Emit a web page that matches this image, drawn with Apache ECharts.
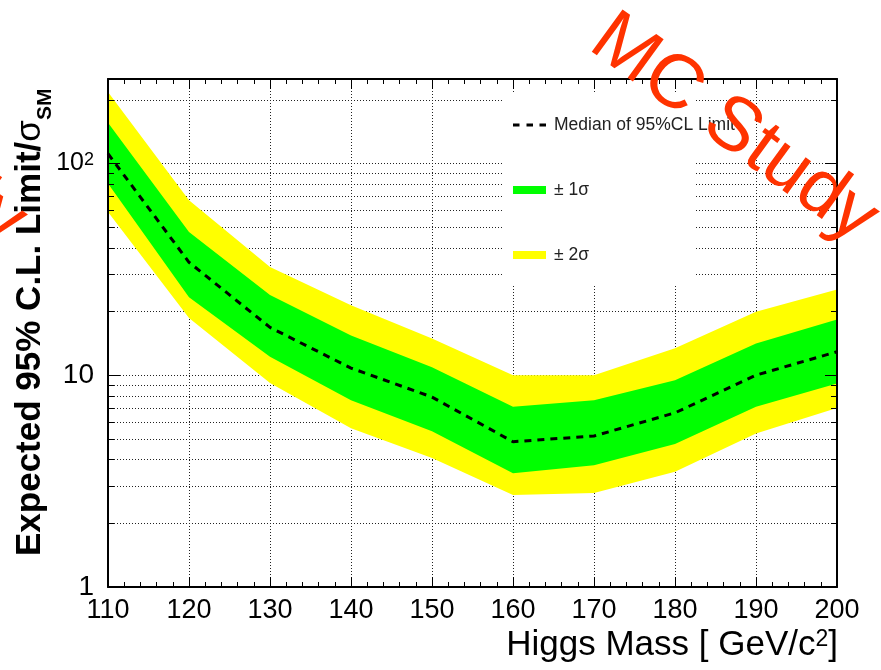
<!DOCTYPE html>
<html><head><meta charset="utf-8">
<script src="https://cdn.jsdelivr.net/npm/echarts@6/dist/echarts.min.js"></script>
<style>html,body{margin:0;padding:0;background:#fff}#c{width:881px;height:670px}</style>
</head><body><div id="c"></div>
<script>
// ---- data ----
const masses     = [110, 120, 130, 140, 150, 160, 170, 180, 190, 200];
const median     = [111, 34.1, 16.8, 10.8, 7.88, 4.85, 5.16, 6.64, 10.0, 12.9];
const sigma1Low  = [80.2, 23.3, 12.2, 7.62, 5.44, 3.44, 3.76, 4.73, 7.09, 9.14];
const sigma1High = [155.6, 47.4, 23.9, 15.4, 10.9, 7.09, 7.62, 9.47, 14.1, 18.3];
const sigma2Low  = [58.9, 18.6, 9.17, 5.62, 4.06, 2.72, 2.78, 3.50, 5.31, 6.99];
const sigma2High = [217, 66.9, 32.4, 21.4, 14.9, 10.0, 10.0, 13.4, 19.9, 25.4];
const xGridValues = [120, 130, 140, 150, 160, 170, 180, 190];
const yGridValues = [2, 3, 4, 5, 6, 7, 8, 9, 10, 20, 30, 40, 50, 60, 70, 80, 90, 100, 200];
const yMinorTicks = [2, 3, 4, 5, 6, 7, 8, 9, 20, 30, 40, 50, 60, 70, 80, 90, 200];
const yTickValues = [1, 10, 100];
const yTickLabels = ['1', '10', '10^2'];
const legendNames = ['Median of 95%CL Limit', '\u00b1 1\u03c3', '\u00b1 2\u03c3'];

const FONT = '"Liberation Sans", Arial, Helvetica, sans-serif';
const chart = echarts.init(document.getElementById('c'), null, {renderer: 'canvas'});

function band(name, lo, hi, color, z) {
  return {
    name: name, type: 'custom', coordinateSystem: 'cartesian2d', z: z, silent: true,
    itemStyle: {color: color},
    data: masses.map((m, i) => [m, lo[i], hi[i]]),
    encode: {x: 0, y: [1, 2]},
    renderItem: function (params, api) {
      if (params.dataIndex !== masses.length - 1) return null;
      const pts = [];
      for (let i = 0; i < masses.length; i++) pts.push(api.coord([masses[i], hi[i]]));
      for (let i = masses.length - 1; i >= 0; i--) pts.push(api.coord([masses[i], lo[i]]));
      return {type: 'polygon', shape: {points: pts}, style: {fill: color}};
    }
  };
}

const dotted = {stroke: '#222', lineWidth: 1, lineDash: [1, 2]};
const WM_ANGLE = -36 * Math.PI / 180;

const option = {
  animation: false,
  backgroundColor: '#fff',
  grid: {left: 108, right: 44, top: 79, bottom: 83, containLabel: false},
  xAxis: [
    {type: 'value', position: 'bottom', min: 110, max: 200, interval: 10, z: 5,
     axisLine: {onZero: false, lineStyle: {color: '#000', width: 2}},
     axisTick: {inside: true, length: 10, lineStyle: {color: '#000', width: 1}},
     minorTick: {show: true, splitNumber: 5, length: 5, lineStyle: {color: '#000', width: 1}},
     axisLabel: {fontSize: 27, fontFamily: FONT, color: '#000', margin: 10},
     splitLine: {show: false}},
    {type: 'value', position: 'top', min: 110, max: 200, interval: 10, z: 5,
     axisLine: {onZero: false, lineStyle: {color: '#000', width: 2}},
     axisTick: {inside: true, length: 10, lineStyle: {color: '#000', width: 1}},
     minorTick: {show: true, splitNumber: 5, length: 5, lineStyle: {color: '#000', width: 1}},
     axisLabel: {show: false}, splitLine: {show: false}}
  ],
  yAxis: [
    {type: 'log', logBase: 10, position: 'left', min: 1, max: 250, z: 5,
     axisLine: {onZero: false, lineStyle: {color: '#000', width: 2}},
     axisTick: {inside: true, length: 12, lineStyle: {color: '#000', width: 1}},
     axisLabel: {fontSize: 28, fontFamily: FONT, color: '#000', margin: 14, showMaxLabel: false,
       formatter: function (v) {
         const i = yTickValues.findIndex(t => Math.abs(v - t) / t < 1e-6);
         if (i < 0) return '';
         const s = yTickLabels[i];
         if (s.indexOf('^') >= 0) { const p = s.split('^'); return '{m|' + p[0] + '}{sup|' + p[1] + '}'; }
         return s;
       },
       rich: {
         m: {fontSize: 25, fontFamily: FONT, color: '#000', verticalAlign: 'top', lineHeight: 25},
         sup: {fontSize: 18, fontFamily: FONT, color: '#000', verticalAlign: 'top', lineHeight: 18}
       }},
     splitLine: {show: false}},
    {type: 'log', logBase: 10, position: 'right', min: 1, max: 250, z: 5,
     axisLine: {onZero: false, lineStyle: {color: '#000', width: 2}},
     axisTick: {inside: true, length: 12, lineStyle: {color: '#000', width: 1}},
     axisLabel: {show: false}, splitLine: {show: false}}
  ],
  legend: {
    orient: 'vertical', left: 508, top: 111, itemGap: 47, itemWidth: 33, itemHeight: 8,
    selectedMode: false, z: 6,
    textStyle: {fontFamily: FONT, fontSize: 17.5, color: '#222', padding: [0, 0, 0, 3]},
    data: [
      {name: legendNames[0], icon: 'path://M0 0H6.5V3H0Z M13.5 0H20V3H13.5Z M26.5 0H33V3H26.5Z',
       itemStyle: {color: '#000'}},
      {name: legendNames[1], icon: 'rect'},
      {name: legendNames[2], icon: 'rect'}
    ]
  },
  graphic: [
    {type: 'rect', z: 4, shape: {x: 502, y: 92, width: 193, height: 193}, style: {fill: '#fff'}, silent: true},
    {type: 'text', x: 838, y: 663, z: 10, silent: true,
     style: {text: '{a|Higgs Mass [ GeV/c}{s|2}{a|]}', align: 'right', textAlign: 'right',
       verticalAlign: 'bottom', textVerticalAlign: 'bottom', fill: '#000',
       rich: {
         a: {fontSize: 35, fontFamily: FONT, fill: '#000', color: '#000', lineHeight: 35, verticalAlign: 'bottom', padding: [3, 0, 0, 0]},
         s: {fontSize: 23, fontFamily: FONT, fill: '#000', color: '#000', lineHeight: 23, verticalAlign: 'top'}
       }}},
    {type: 'text', x: 13, y: 556, rotation: Math.PI / 2, z: 10, silent: true,
     style: {text: '{a|Expected 95% C.L. Limit/}{g|\u03c3}{s|SM}', align: 'left', textAlign: 'left',
       verticalAlign: 'top', textVerticalAlign: 'top', fill: '#000',
       rich: {
         a: {fontSize: 35, fontWeight: 'bold', fontFamily: FONT, fill: '#000', color: '#000', lineHeight: 35, verticalAlign: 'top'},
         g: {fontSize: 35, fontWeight: 'normal', fontFamily: FONT, fill: '#000', color: '#000', lineHeight: 35, verticalAlign: 'top'},
         s: {fontSize: 21, fontWeight: 'bold', fontFamily: FONT, fill: '#000', color: '#000', lineHeight: 21, verticalAlign: 'top', padding: [22, 0, 0, 0]}
       }}},
    {type: 'text', x: 599, y: 31, rotation: WM_ANGLE, z: 20, silent: true,
     style: {text: 'MC Study', fontSize: 76, fontFamily: FONT, fill: '#ff3300',
       align: 'left', textAlign: 'left', verticalAlign: 'middle', textVerticalAlign: 'middle'}},
    {type: 'text', x: -253, y: 34, rotation: WM_ANGLE, z: 20, silent: true,
     style: {text: 'MC Study', fontSize: 76, fontFamily: FONT, fill: '#ff3300',
       align: 'left', textAlign: 'left', verticalAlign: 'middle', textVerticalAlign: 'middle'}}
  ],
  series: [
    {name: 'hgrid', type: 'custom', coordinateSystem: 'cartesian2d', z: 1, silent: true,
     data: yGridValues.map(v => [110, v]), encode: {x: 0, y: 1},
     renderItem: function (params, api) {
       const p = api.coord([110, api.value(1)]);
       const cs = params.coordSys;
       const y = Math.round(p[1]) + 0.5;
       return {type: 'line', shape: {x1: cs.x, y1: y, x2: cs.x + cs.width, y2: y}, style: dotted};
     }},
    {name: 'vgrid', type: 'custom', coordinateSystem: 'cartesian2d', z: 1, silent: true,
     data: xGridValues.map(v => [v, 1]), encode: {x: 0, y: 1},
     renderItem: function (params, api) {
       const p = api.coord([api.value(0), 1]);
       const cs = params.coordSys;
       const x = Math.round(p[0]) + 0.5;
       return {type: 'line', shape: {x1: x, y1: cs.y, x2: x, y2: cs.y + cs.height}, style: dotted};
     }},
    band(legendNames[2], sigma2Low, sigma2High, '#ffff00', 2),
    band(legendNames[1], sigma1Low, sigma1High, '#00ff00', 2),
    {name: legendNames[0], type: 'line', z: 3, silent: true, symbol: 'none', showSymbol: false,
     data: masses.map((m, i) => [m, median[i]]),
     itemStyle: {color: '#000'},
     lineStyle: {color: '#000', width: 3, type: [7, 6]}},
    {name: 'yminor', type: 'custom', coordinateSystem: 'cartesian2d', z: 6, silent: true,
     data: yMinorTicks.map(v => [110, v]), encode: {x: 0, y: 1},
     renderItem: function (params, api) {
       const p = api.coord([110, api.value(1)]);
       const cs = params.coordSys;
       const y = Math.round(p[1]) + 0.5;
       const st = {stroke: '#000', lineWidth: 1};
       return {type: 'group', children: [
         {type: 'line', shape: {x1: cs.x, y1: y, x2: cs.x + 6, y2: y}, style: st},
         {type: 'line', shape: {x1: cs.x + cs.width - 6, y1: y, x2: cs.x + cs.width, y2: y}, style: st}
       ]};
     }}
  ]
};
chart.setOption(option);
</script>
</body></html>
